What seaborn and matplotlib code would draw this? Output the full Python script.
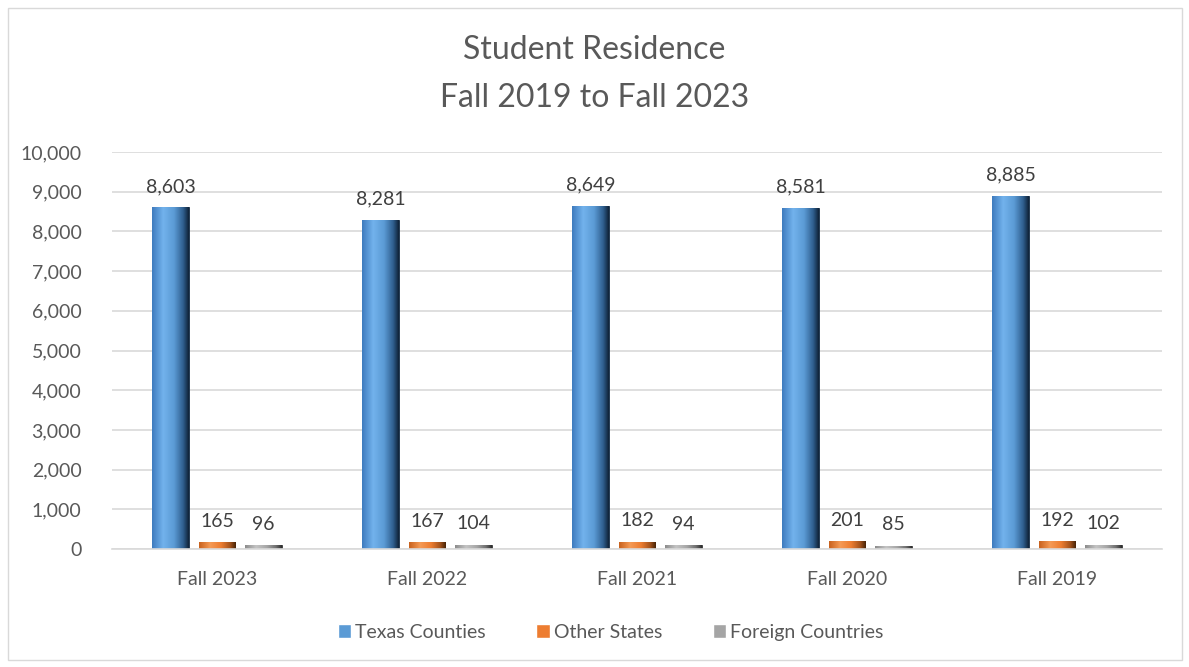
import matplotlib.pyplot as plt
import seaborn as sns
import numpy as np
import pandas as pd
from matplotlib.colors import LinearSegmentedColormap
from matplotlib.patches import Rectangle

# Chart data
terms = ['Fall 2023', 'Fall 2022', 'Fall 2021', 'Fall 2020', 'Fall 2019']
groups = ['Texas Counties', 'Other States', 'Foreign Countries']
texas_counties = [8603, 8281, 8649, 8581, 8885]
other_states = [165, 167, 182, 201, 192]
foreign_countries = [96, 104, 94, 85, 102]

colors = ['#5B9BD5', '#ED7D31', '#A5A5A5']
shades = [
    ['#3F7CBF', '#72B2EC', '#5B9BD5', '#2F5F8F', '#10243A'],
    ['#C8621E', '#F59A55', '#ED7D31', '#A4531C', '#4A2508'],
    ['#8C8C8C', '#C4C4C4', '#A5A5A5', '#6E6E6E', '#2E2E2E'],
]

df = pd.DataFrame({
    'term': terms * 3,
    'group': np.repeat(groups, len(terms)),
    'count': texas_counties + other_states + foreign_countries,
})

sns.set_style('white')
plt.rcParams['font.family'] = ['Lato', 'DejaVu Sans']

fig = plt.figure(figsize=(11.89, 6.67), dpi=100)
ax = fig.add_axes([112 / 1189, 1 - 549 / 667, 1050 / 1189, 397 / 667])

sns.barplot(data=df, x='term', y='count', hue='group', palette=colors,
            width=0.66, gap=0.2, ax=ax, saturation=1)

ax.set_yticks(range(0, 10001, 1000))
ax.set_yticklabels([f'{v:,}' for v in range(0, 10001, 1000)])
ax.yaxis.grid(True, color='#D9D9D9', linewidth=1.2)
ax.set_axisbelow(True)
for side in ['top', 'right', 'left']:
    ax.spines[side].set_visible(False)
ax.spines['bottom'].set_color('#D9D9D9')
ax.spines['bottom'].set_linewidth(1.2)
ax.tick_params(axis='both', length=0, labelsize=14, colors='#595959')
ax.tick_params(axis='x', pad=16)
ax.tick_params(axis='y', pad=22)
ax.set_xlabel('')
ax.set_ylabel('')

# bevel-ish gradient on each bar
for container, shade in zip(ax.containers, shades):
    cmap = LinearSegmentedColormap.from_list('bev', list(zip([0, 0.3, 0.6, 0.85, 1], shade)))
    grad = np.linspace(0, 1, 64).reshape(1, -1)
    for bar in container:
        x0, y0 = bar.get_x(), bar.get_y()
        w, h = bar.get_width(), bar.get_height()
        im = ax.imshow(grad, cmap=cmap, aspect='auto', extent=(x0, x0 + w, y0, y0 + h),
                       zorder=bar.get_zorder() + 0.1)
        im.set_clip_path(bar)
        bar.set_edgecolor(shade[4])
        bar.set_linewidth(0.6)
    ax.bar_label(container, labels=[f'{v:,.0f}' for v in container.datavalues],
                 padding=9, fontsize=14, color='#404040')

ax.set_ylim(0, 10000)
ax.set_xlim(-0.5, len(terms) - 0.5)

sns.move_legend(ax, 'center', bbox_to_anchor=(0.475, -0.21), ncol=3, frameon=False,
                title=None, fontsize=14, handlelength=0.7, handleheight=0.7,
                handletextpad=0.2, columnspacing=2.6)
for t in ax.get_legend().get_texts():
    t.set_color('#595959')

fig.text(0.5, 1 - 74 / 667, 'Student Residence\nFall 2019 to Fall 2023', ha='center',
         va='center', fontsize=23, color='#595959', linespacing=1.75)

fig.patches.append(Rectangle((8 / 1189, 7 / 667), 1174 / 1189, 652 / 667, fill=False,
                             edgecolor='#D9D9D9', linewidth=1, transform=fig.transFigure))

fig.savefig('out.png', dpi=100)
